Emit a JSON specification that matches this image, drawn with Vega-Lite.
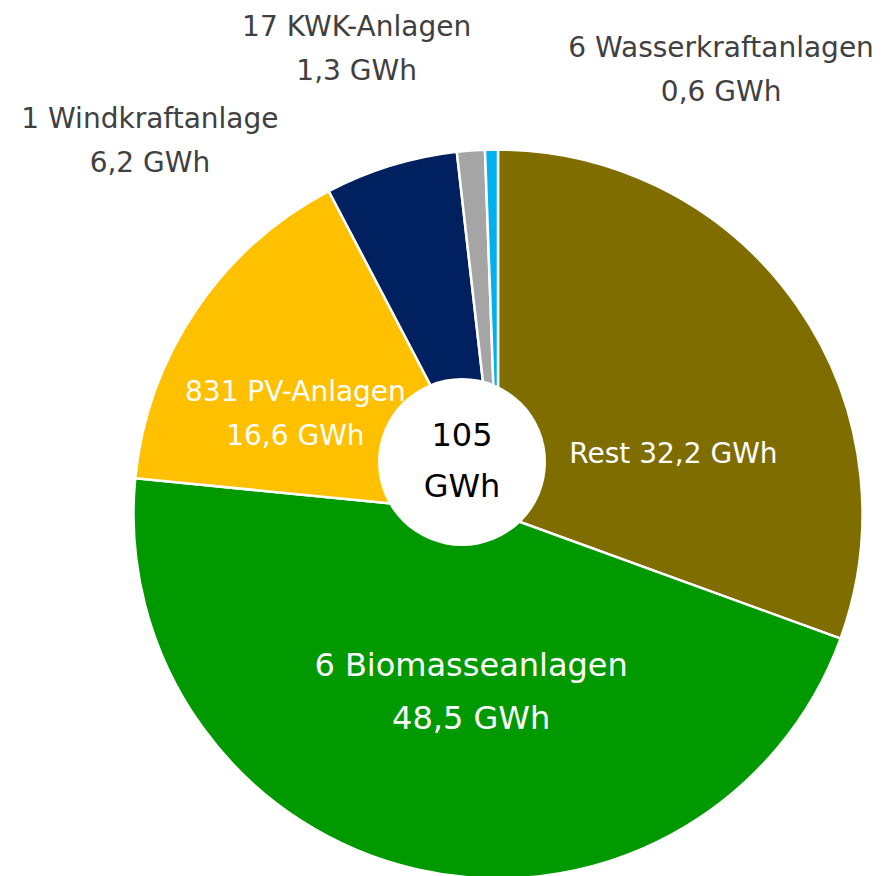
{
  "$schema": "https://vega.github.io/schema/vega-lite/v6.json",
  "width": 796,
  "height": 724,
  "autosize": {"type": "none"},
  "padding": {"left": 100, "top": 152, "right": 0, "bottom": 0},
  "background": "white",
  "config": {"view": {"stroke": null}, "font": "DejaVu Sans"},
  "datasets": {
    "slices": [
      {"name": "Rest", "label": "Rest 32,2 GWh", "value": 32.2, "order": 1},
      {"name": "Biomasse", "label": "6 Biomasseanlagen\n48,5 GWh", "value": 48.5, "order": 2},
      {"name": "PV", "label": "831 PV-Anlagen\n16,6 GWh", "value": 16.6, "order": 3},
      {"name": "Wind", "label": "1 Windkraftanlage\n6,2 GWh", "value": 6.2, "order": 4},
      {"name": "KWK", "label": "17 KWK-Anlagen\n1,3 GWh", "value": 1.3, "order": 5},
      {"name": "Wasser", "label": "6 Wasserkraftanlagen\n0,6 GWh", "value": 0.6, "order": 6}
    ],
    "total": [{"label": "105\nGWh"}]
  },
  "layer": [
    {
      "data": {"name": "slices"},
      "mark": {"type": "arc", "outerRadius": 364.5, "stroke": "white", "strokeWidth": 2.5},
      "encoding": {
        "theta": {"field": "value", "type": "quantitative", "stack": true},
        "order": {"field": "order", "type": "quantitative"},
        "color": {
          "field": "name", "type": "nominal", "legend": null,
          "scale": {
            "domain": ["Rest", "Biomasse", "PV", "Wind", "KWK", "Wasser"],
            "range": ["#7F6D00", "#009900", "#FFC000", "#002060", "#A5A5A5", "#00B0F0"]
          }
        }
      }
    },
    {
      "data": {"name": "total"},
      "mark": {"type": "arc", "radius": 84, "theta": 0, "theta2": 6.2832, "fill": "white", "x": {"expr": "width/2 - 36"}, "y": {"expr": "height/2 - 52"}},
      "encoding": {}
    },
    {
      "data": {"name": "total"},
      "mark": {"type": "text", "fontSize": 32, "lineHeight": 51, "lineBreak": "\n", "color": "black", "align": "center", "baseline": "middle", "x": {"expr": "width/2 - 36"}, "y": {"expr": "height/2 - 78"}},
      "encoding": {"text": {"field": "label"}}
    },
    {
      "data": {"name": "slices"},
      "mark": {"type": "text", "radius": 180, "dx": 28, "dy": 44, "fontSize": 28, "lineHeight": 44, "lineBreak": "\n", "color": "white", "align": "center", "baseline": "middle"},
      "encoding": {
        "theta": {"field": "value", "type": "quantitative", "stack": true},
        "order": {"field": "order", "type": "quantitative"},
        "detail": {"field": "name"},
        "text": {"condition": {"test": "datum.name === 'Rest'", "field": "label"}, "value": ""}
      }
    },
    {
      "data": {"name": "slices"},
      "mark": {"type": "text", "radius": 180, "dx": 13, "dy": -24, "fontSize": 32, "lineHeight": 53, "lineBreak": "\n", "color": "white", "align": "center", "baseline": "middle"},
      "encoding": {
        "theta": {"field": "value", "type": "quantitative", "stack": true},
        "order": {"field": "order", "type": "quantitative"},
        "detail": {"field": "name"},
        "text": {"condition": {"test": "datum.name === 'Biomasse'", "field": "label"}, "value": ""}
      }
    },
    {
      "data": {"name": "slices"},
      "mark": {"type": "text", "radius": 225, "dx": -16, "dy": 5, "fontSize": 28, "lineHeight": 44, "lineBreak": "\n", "color": "white", "align": "center", "baseline": "middle"},
      "encoding": {
        "theta": {"field": "value", "type": "quantitative", "stack": true},
        "order": {"field": "order", "type": "quantitative"},
        "detail": {"field": "name"},
        "text": {"condition": {"test": "datum.name === 'PV'", "field": "label"}, "value": ""}
      }
    },
    {
      "data": {"name": "slices"},
      "mark": {"type": "text", "radius": 460, "dx": -213, "dy": 46, "fontSize": 28, "lineHeight": 44, "lineBreak": "\n", "color": "#404040", "align": "center", "baseline": "middle"},
      "encoding": {
        "theta": {"field": "value", "type": "quantitative", "stack": true},
        "order": {"field": "order", "type": "quantitative"},
        "detail": {"field": "name"},
        "text": {"condition": {"test": "datum.name === 'Wind'", "field": "label"}, "value": ""}
      }
    },
    {
      "data": {"name": "slices"},
      "mark": {"type": "text", "radius": 475, "dx": -106, "dy": -12, "fontSize": 28, "lineHeight": 44, "lineBreak": "\n", "color": "#404040", "align": "center", "baseline": "middle"},
      "encoding": {
        "theta": {"field": "value", "type": "quantitative", "stack": true},
        "order": {"field": "order", "type": "quantitative"},
        "detail": {"field": "name"},
        "text": {"condition": {"test": "datum.name === 'KWK'", "field": "label"}, "value": ""}
      }
    },
    {
      "data": {"name": "slices"},
      "mark": {"type": "text", "radius": 441, "dx": 231, "dy": -24, "fontSize": 28, "lineHeight": 44, "lineBreak": "\n", "color": "#404040", "align": "center", "baseline": "middle"},
      "encoding": {
        "theta": {"field": "value", "type": "quantitative", "stack": true},
        "order": {"field": "order", "type": "quantitative"},
        "detail": {"field": "name"},
        "text": {"condition": {"test": "datum.name === 'Wasser'", "field": "label"}, "value": ""}
      }
    }
  ]
}
